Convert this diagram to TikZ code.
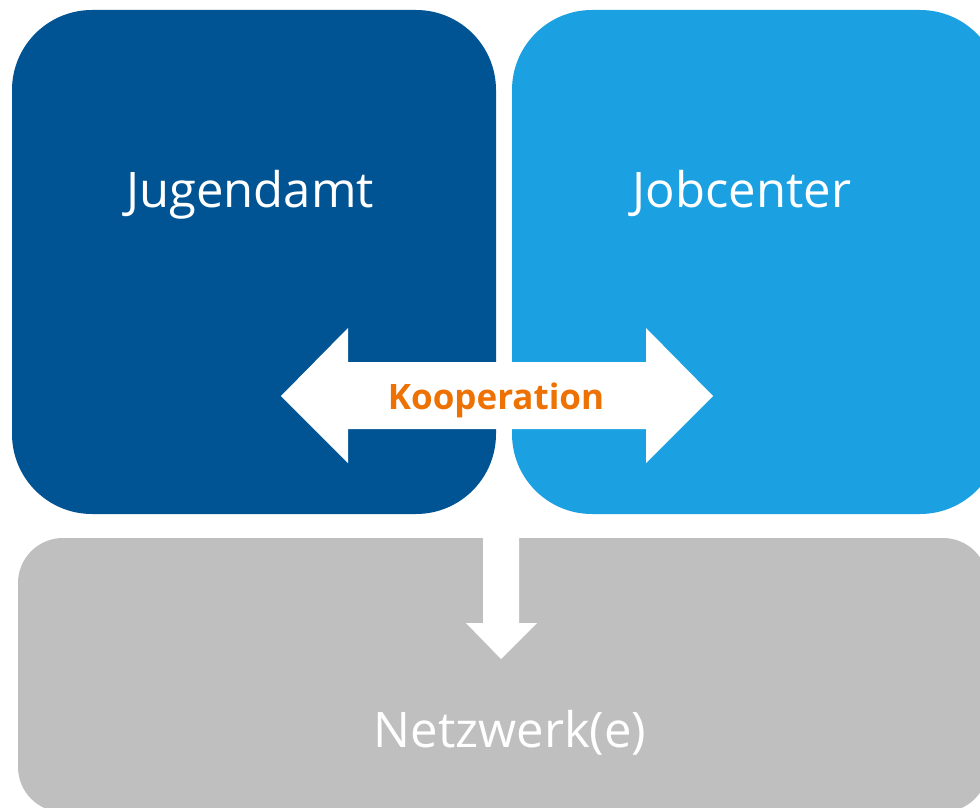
\documentclass[tikz,border=0pt]{standalone}
\usepackage{fontspec}
\setmainfont{Open Sans}
\definecolor{darkblue}{HTML}{005493}
\definecolor{lightblue}{HTML}{1BA1E2}
\definecolor{panelgray}{HTML}{BFBFBF}
\definecolor{cooporange}{HTML}{ED7203}
\begin{document}
\begin{tikzpicture}[x=1pt,y=-1pt,
  bigtext/.style={text=white,font=\fontsize{49}{58}\selectfont,anchor=base,inner sep=0pt},
  cooptext/.style={text=cooporange,font=\fontsize{35}{42}\selectfont\bfseries,anchor=base,inner sep=0pt},
  blockarrow/.style={fill=white,draw=none}]
\useasboundingbox (0,0) rectangle (980,808);
\fill[white] (0,0) rectangle (980,808);
% the three panels
\fill[darkblue,rounded corners=80pt] (12,10) rectangle (496,514);
\fill[lightblue,rounded corners=80pt] (512,10) rectangle (1000,514);
\fill[panelgray,rounded corners=45pt] (18,538) rectangle (988,812);
% double arrow across both upper panels
\fill[blockarrow] (281,396) -- (348,328) -- (348,362) -- (646,362) -- (646,328)
  -- (713,396) -- (646,463) -- (646,429) -- (348,429) -- (348,463) -- cycle;
% downward arrow into the network panel
\fill[blockarrow] (483,538) -- (519,538) -- (519,623) -- (537,623) -- (501,659)
  -- (466,623) -- (483,623) -- cycle;
% labels
\node[bigtext] (jugend) at (250,207) {Jugendamt};
\node[bigtext] (job) at (742,207) {Jobcenter};
\node[cooptext] (coop) at (496,409) {Kooperation};
\node[bigtext] (netz) at (510,747) {Netzwerk(e)};
\end{tikzpicture}
\end{document}
